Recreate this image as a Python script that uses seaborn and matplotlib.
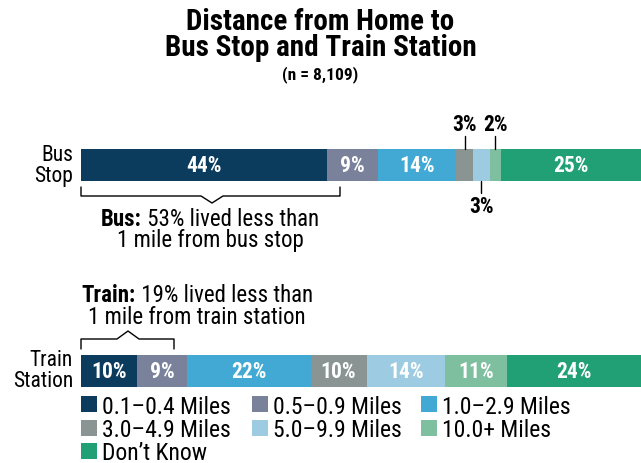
import numpy as np
import pandas as pd
import seaborn as sns
import matplotlib.pyplot as plt
from matplotlib.patches import Rectangle
from matplotlib.lines import Line2D
from matplotlib.transforms import blended_transform_factory

# Data
places = ['Bus\nStop', 'Train\nStation']
categories = ['0.1–0.4 Miles', '0.5–0.9 Miles', '1.0–2.9 Miles', '3.0–4.9 Miles',
              '5.0–9.9 Miles', '10.0+ Miles', 'Don’t Know']
bus_pct = [44, 9, 14, 3, 3, 2, 25]
train_pct = [10, 9, 22, 10, 14, 11, 24]
colors = ['#0b3c5d', '#7a829b', '#41a9d3', '#899493', '#9dcbe2', '#7dbf9f', '#21a076']

sns.set_style('white')
plt.rcParams['font.family'] = ['Roboto Condensed', 'DejaVu Sans']
plt.rcParams['text.color'] = 'black'

W, H = 641, 464
fig = plt.figure(figsize=(W / 100, H / 100), dpi=100)


def fx(px):
    return px / W


def fy(py):
    return 1 - py / H


ax = fig.add_axes([fx(81), fy(388), fx(641) - fx(81), fy(150) - fy(388)])

# long table with cumulative right edges
rows = []
for place, vals in zip(places, [bus_pct, train_pct]):
    cum = np.cumsum(vals)
    for cat, v, c in zip(categories, vals, cum):
        rows.append({'place': place, 'category': cat, 'pct': v, 'right': c})
df = pd.DataFrame(rows)

# draw cumulative bars from the widest down so each segment shows
for cat, col in list(zip(categories, colors))[::-1]:
    sub = df[df['category'] == cat]
    sns.barplot(data=sub, x='right', y='place', order=places, color=col,
                width=0.155, saturation=1, ax=ax, linewidth=0)

ax.set_xlim(0, 100)
ax.set_ylim(1.0777, -0.0777)
ax.axis('off')

# labels inside segments
for i, place in enumerate(places):
    sub = df[df['place'] == place]
    for _, r in sub.iterrows():
        if r['pct'] >= 5:
            ax.text(r['right'] - r['pct'] / 2, i, f"{r['pct']}%", color='white',
                    ha='center', va='center', fontsize=15.5, fontweight='bold')
    ax.text(fx(73), fy(166 if i == 0 else 371), place, transform=fig.transFigure,
            ha='right', va='center', fontsize=15.5, linespacing=0.95)

# small bus segments with leader lines
tr = blended_transform_factory(ax.transData, fig.transFigure)
bus_sub = df[df['place'] == places[0]].reset_index(drop=True)
small = [(3, 'up'), (4, 'down'), (5, 'up')]
for idx, side in small:
    r = bus_sub.loc[idx]
    xc = r['right'] - r['pct'] / 2
    if side == 'up':
        fig.add_artist(Line2D([xc, xc], [fy(137), fy(150)], transform=tr, color='black', lw=1))
        ax.text(xc, fy(125), f"{r['pct']}%", transform=tr, ha='center', va='center',
                fontsize=15.5, fontweight='bold')
    else:
        fig.add_artist(Line2D([xc, xc], [fy(182), fy(194)], transform=tr, color='black', lw=1))
        ax.text(xc, fy(207), f"{r['pct']}%", transform=tr, ha='center', va='center',
                fontsize=15.5, fontweight='bold')


def bracket(x0, x1, xm, ytip, ybar, ypeak):
    xs = [x0, x0, xm - 11, xm, xm + 11, x1, x1]
    ys = [ytip, ybar, ybar, ypeak, ybar, ybar, ytip]
    fig.add_artist(Line2D([fx(x) for x in xs], [fy(y) for y in ys],
                          transform=fig.transFigure, color='black', lw=1))


bracket(81, 340, 212, 188, 197, 204)
bracket(81, 174, 128, 350, 340, 332)

renderer = fig.canvas.get_renderer()


def mixed_line(cx, py, bold, normal, size=16.5):
    t1 = fig.text(0, fy(py), bold, fontsize=size, fontweight='bold', va='center')
    t2 = fig.text(0, fy(py), normal, fontsize=size, va='center')
    w1 = t1.get_window_extent(renderer).width
    w2 = t2.get_window_extent(renderer).width
    start = cx - (w1 + w2) / 2
    t1.set_x(fx(start))
    t2.set_x(fx(start + w1))


mixed_line(210, 220, 'Bus:', ' 53% lived less than')
fig.text(fx(210), fy(241), '1 mile from bus stop', ha='center', va='center', fontsize=16.5)
mixed_line(197, 295, 'Train:', ' 19% lived less than')
fig.text(fx(197), fy(317), '1 mile from train station', ha='center', va='center', fontsize=16.5)

# title
fig.text(0.5, fy(22), 'Distance from Home to', ha='center', va='center',
         fontsize=21, fontweight='bold')
fig.text(0.5, fy(48), 'Bus Stop and Train Station', ha='center', va='center',
         fontsize=21, fontweight='bold')
fig.text(0.5, fy(75), '(n = 8,109)', ha='center', va='center', fontsize=12.5, fontweight='bold')

# legend drawn as a grid that reads row by row
col_x = [81, 252, 421]
row_y = [405, 429, 452]
for k, (cat, col) in enumerate(zip(categories, colors)):
    x0, y0 = col_x[k % 3], row_y[k // 3]
    fig.add_artist(Rectangle((fx(x0), fy(y0 + 8)), fx(16), 16 / H,
                             transform=fig.transFigure, facecolor=col, edgecolor='none'))
    fig.text(fx(x0 + 21), fy(y0 + 2), cat, ha='left', va='center', fontsize=17)

fig.savefig('out.png', dpi=100)
